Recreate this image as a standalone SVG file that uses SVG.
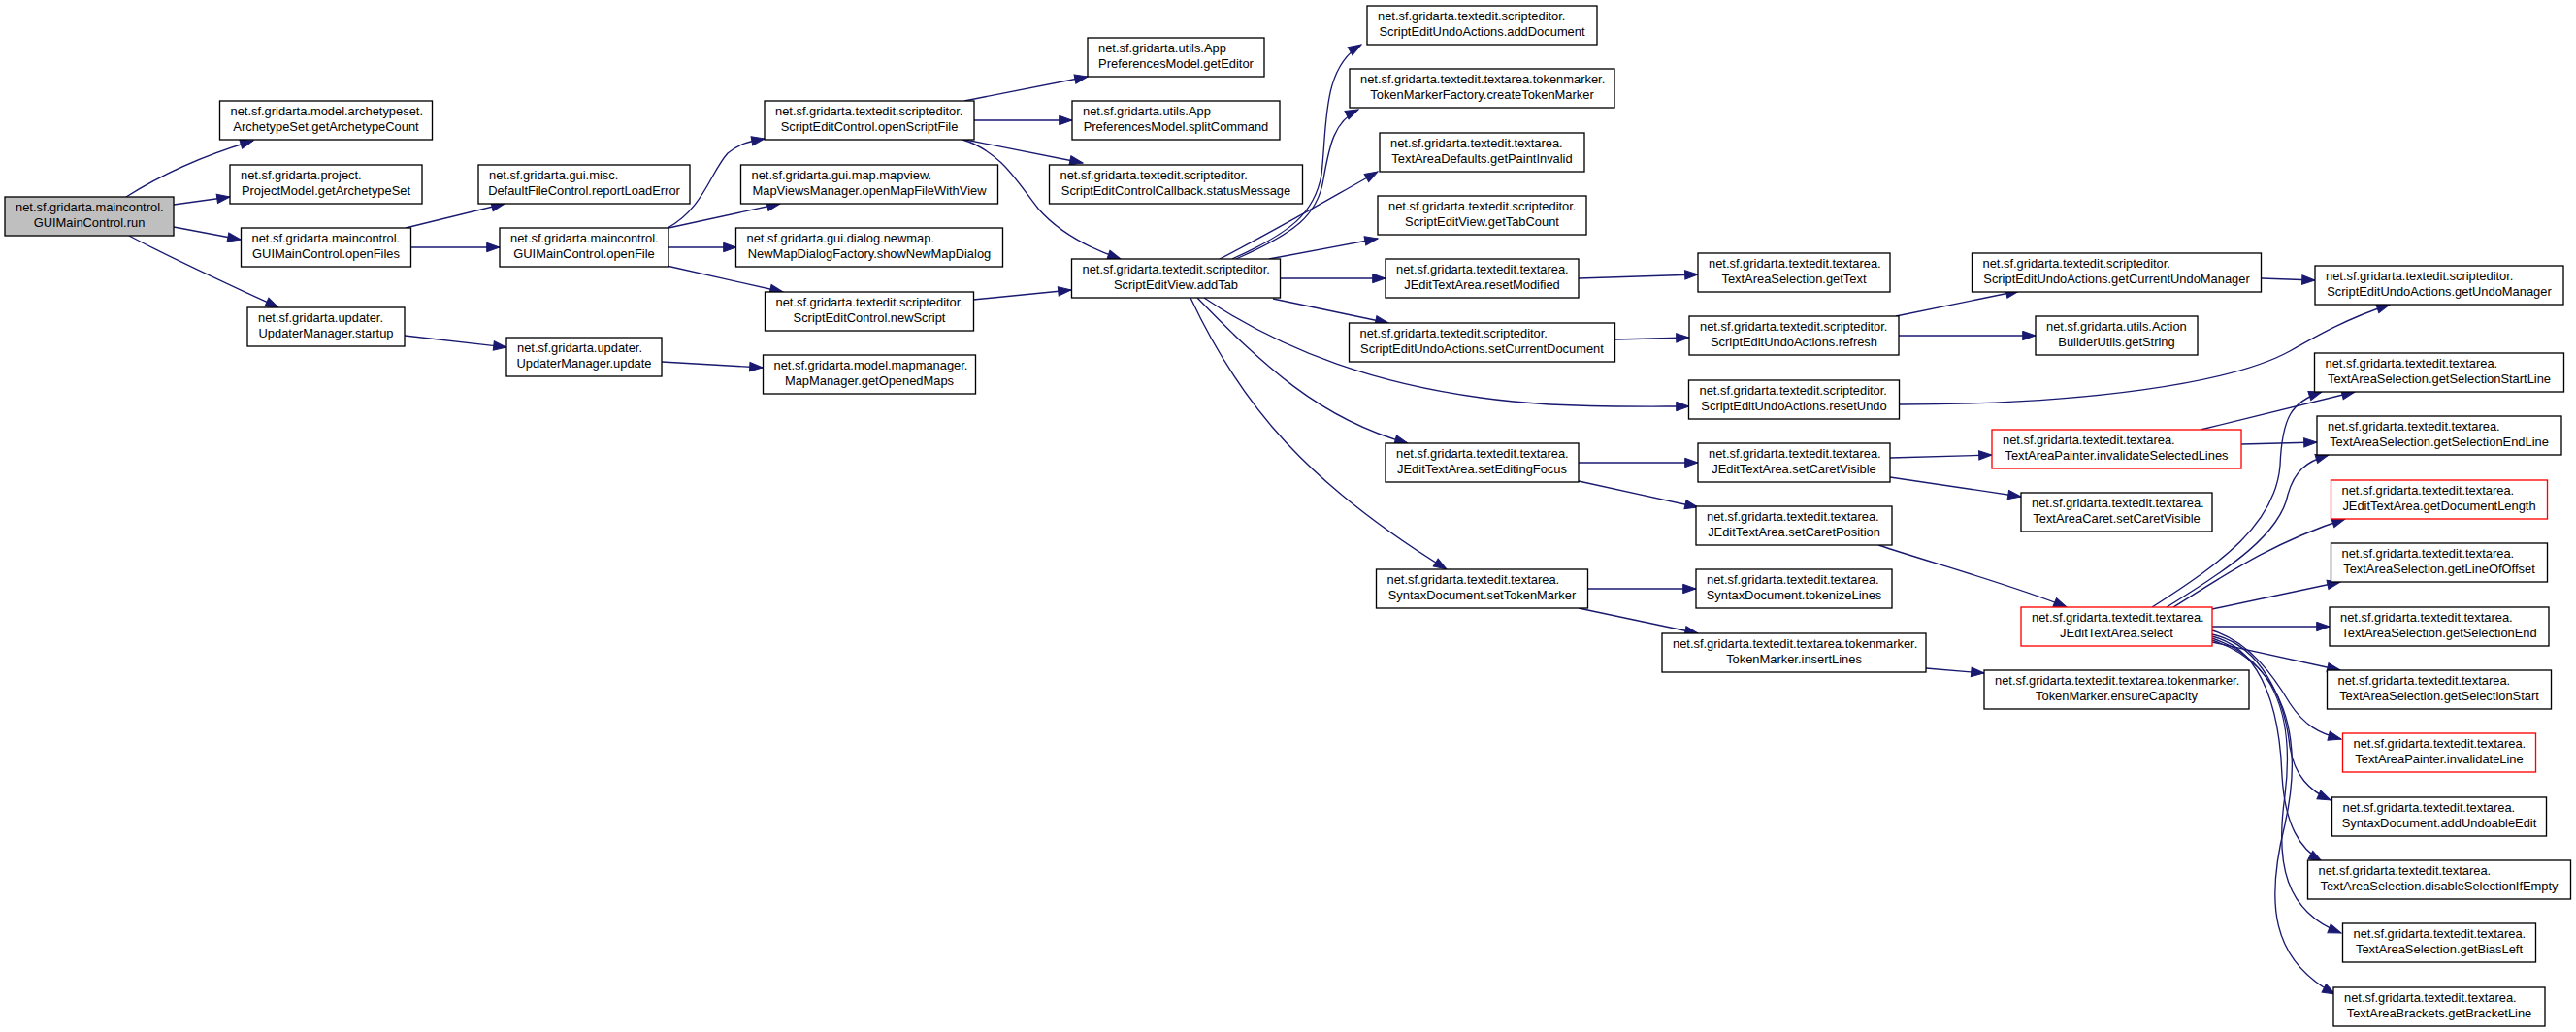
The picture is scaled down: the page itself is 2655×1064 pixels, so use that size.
<svg xmlns="http://www.w3.org/2000/svg" width="2655" height="1064" viewBox="0 0 2655 1064">
<style>
.node rect{fill:#fff;stroke:#000;stroke-width:1.33}
.node.red rect{stroke:#f00}
.node.root rect{fill:#bfbfbf}
text{font-family:"Liberation Sans",Arial,sans-serif;font-size:12.9px;fill:#000}
.c{text-anchor:middle}
#edges path{fill:none;stroke:#191970;stroke-width:1.33;marker-end:url(#arr)}
</style>
<defs>
<marker id="arr" markerUnits="userSpaceOnUse" markerWidth="15" markerHeight="11" viewBox="0 0 15 11" refX="13.8" refY="5.2" orient="auto" overflow="visible">
<path d="M0.5,0.5 L13.8,5.2 L0.5,9.9 z" fill="#191970" stroke="#191970" stroke-width="1"/>
</marker>
</defs>
<rect width="2655" height="1064" fill="#fff"/>
<g id="edges">
<path d="M130,203 C160,184 200,163 261,145"/>
<path d="M179,211 L237,203"/>
<path d="M179,234 L248,247"/>
<path d="M133,243 C180,268 235,293 287,317"/>
<path d="M418,235 L520,210"/>
<path d="M423,255 L515,255"/>
<path d="M688,235 C725,215 732,178 750,158 C762,148 772,146 788,143"/>
<path d="M689,235 L804,210"/>
<path d="M689,255 L759,255"/>
<path d="M687,274 L807,301"/>
<path d="M1003,309 L1104,299"/>
<path d="M417,346 L522,358"/>
<path d="M682,373 L786,379"/>
<path d="M994,104 L1121,79"/>
<path d="M1004,124 L1105,124"/>
<path d="M995,144 L1116,168"/>
<path d="M992,144 C1032,156 1050,190 1070,215 C1090,238 1120,255 1155,267"/>
<path d="M1270,267 C1330,240 1355,220 1362,180 C1368,130 1362,70 1403,46"/>
<path d="M1274,267 C1335,240 1358,222 1364,185 C1370,150 1375,125 1400,113"/>
<path d="M1257,267 C1310,240 1370,205 1420,177"/>
<path d="M1308,267 L1420,246"/>
<path d="M1319,287 L1428,287"/>
<path d="M1312,308 L1431,333"/>
<path d="M1241,307 C1320,360 1420,400 1560,414 C1620,420 1680,419 1741,419"/>
<path d="M1234,307 C1300,375 1360,432 1451,457"/>
<path d="M1227,307 C1280,420 1350,500 1491,587"/>
<path d="M1627,287 L1750,283"/>
<path d="M1665,350 L1741,348"/>
<path d="M1954,326 L2081,300"/>
<path d="M1957,346 L2098,346"/>
<path d="M2331,287 L2386,289"/>
<path d="M1958,417 C2150,417 2300,395 2360,362 C2390,345 2420,328 2463,314"/>
<path d="M1627,477 L1750,477"/>
<path d="M1627,496 L1750,523"/>
<path d="M1948,472 L2053,469"/>
<path d="M1948,492 L2083,512"/>
<path d="M1936,562 C1990,580 2080,605 2130,626"/>
<path d="M1637,607 L1748,607"/>
<path d="M1627,627 L1750,653"/>
<path d="M1985,689 L2045,694"/>
<path d="M2268,443 L2427,404"/>
<path d="M2310,458 L2388,456"/>
<path d="M2218,626 C2290,580 2345,540 2350,480 C2352,430 2362,414 2393,404"/>
<path d="M2233,626 C2300,585 2350,550 2358,510 C2365,485 2377,476 2400,469"/>
<path d="M2240,626 C2290,595 2340,560 2417,535"/>
<path d="M2280,628 L2412,600"/>
<path d="M2280,646 L2401,646"/>
<path d="M2280,662 L2412,691"/>
<path d="M2280,650 C2320,662 2345,700 2360,725 C2375,748 2390,756 2413,762"/>
<path d="M2280,654 C2330,665 2355,720 2360,770 C2365,800 2380,815 2402,825"/>
<path d="M2280,656 C2335,670 2350,740 2352,800 C2355,850 2370,875 2393,888"/>
<path d="M2280,658 C2345,680 2365,740 2355,820 C2345,890 2355,940 2413,962"/>
<path d="M2280,660 C2355,685 2375,760 2355,850 C2335,930 2340,990 2407,1025"/>
</g>
<g id="n_run" class="node root"><rect x="5" y="203" width="174" height="40"/><text x="16" y="218.2">net.sf.gridarta.maincontrol.</text><text class="c" x="92" y="233.7">GUIMainControl.run</text></g>
<g id="n_archCount" class="node"><rect x="226.5" y="104" width="219" height="40"/><text x="237.5" y="119.2">net.sf.gridarta.model.archetypeset.</text><text class="c" x="336" y="134.7">ArchetypeSet.getArchetypeCount</text></g>
<g id="n_getArchSet" class="node"><rect x="237" y="170" width="198" height="40"/><text x="248" y="185.2">net.sf.gridarta.project.</text><text class="c" x="336" y="200.7">ProjectModel.getArchetypeSet</text></g>
<g id="n_openFiles" class="node"><rect x="248.5" y="235" width="175" height="40"/><text x="259.5" y="250.2">net.sf.gridarta.maincontrol.</text><text class="c" x="336" y="265.7">GUIMainControl.openFiles</text></g>
<g id="n_startup" class="node"><rect x="255" y="317" width="162" height="40"/><text x="266" y="332.2">net.sf.gridarta.updater.</text><text class="c" x="336" y="347.7">UpdaterManager.startup</text></g>
<g id="n_reportLoadError" class="node"><rect x="493" y="170" width="218" height="40"/><text x="504" y="185.2">net.sf.gridarta.gui.misc.</text><text class="c" x="602" y="200.7">DefaultFileControl.reportLoadError</text></g>
<g id="n_openFile" class="node"><rect x="515" y="235" width="174" height="40"/><text x="526" y="250.2">net.sf.gridarta.maincontrol.</text><text class="c" x="602" y="265.7">GUIMainControl.openFile</text></g>
<g id="n_update" class="node"><rect x="522" y="348" width="160" height="40"/><text x="533" y="363.2">net.sf.gridarta.updater.</text><text class="c" x="602" y="378.7">UpdaterManager.update</text></g>
<g id="n_openScriptFile" class="node"><rect x="788" y="104" width="216" height="40"/><text x="799" y="119.2">net.sf.gridarta.textedit.scripteditor.</text><text class="c" x="896" y="134.7">ScriptEditControl.openScriptFile</text></g>
<g id="n_openMapFileWithView" class="node"><rect x="763.5" y="170" width="265" height="40"/><text x="774.5" y="185.2">net.sf.gridarta.gui.map.mapview.</text><text class="c" x="896" y="200.7">MapViewsManager.openMapFileWithView</text></g>
<g id="n_showNewMapDialog" class="node"><rect x="758.5" y="235" width="275" height="40"/><text x="769.5" y="250.2">net.sf.gridarta.gui.dialog.newmap.</text><text class="c" x="896" y="265.7">NewMapDialogFactory.showNewMapDialog</text></g>
<g id="n_newScript" class="node"><rect x="788.5" y="301" width="215" height="40"/><text x="799.5" y="316.2">net.sf.gridarta.textedit.scripteditor.</text><text class="c" x="896" y="331.7">ScriptEditControl.newScript</text></g>
<g id="n_getOpenedMaps" class="node"><rect x="786.5" y="366" width="219" height="40"/><text x="797.5" y="381.2">net.sf.gridarta.model.mapmanager.</text><text class="c" x="896" y="396.7">MapManager.getOpenedMaps</text></g>
<g id="n_getEditor" class="node"><rect x="1121" y="39" width="182" height="40"/><text x="1132" y="54.2">net.sf.gridarta.utils.App</text><text class="c" x="1212" y="69.7">PreferencesModel.getEditor</text></g>
<g id="n_splitCommand" class="node"><rect x="1105" y="104" width="214" height="40"/><text x="1116" y="119.2">net.sf.gridarta.utils.App</text><text class="c" x="1212" y="134.7">PreferencesModel.splitCommand</text></g>
<g id="n_statusMessage" class="node"><rect x="1081.5" y="170" width="261" height="40"/><text x="1092.5" y="185.2">net.sf.gridarta.textedit.scripteditor.</text><text class="c" x="1212" y="200.7">ScriptEditControlCallback.statusMessage</text></g>
<g id="n_addTab" class="node"><rect x="1104.5" y="267" width="215" height="40"/><text x="1115.5" y="282.2">net.sf.gridarta.textedit.scripteditor.</text><text class="c" x="1212" y="297.7">ScriptEditView.addTab</text></g>
<g id="n_addDocument" class="node"><rect x="1409" y="6" width="237" height="40"/><text x="1420" y="21.2">net.sf.gridarta.textedit.scripteditor.</text><text class="c" x="1527.5" y="36.7">ScriptEditUndoActions.addDocument</text></g>
<g id="n_createTokenMarker" class="node"><rect x="1391" y="71" width="273" height="40"/><text x="1402" y="86.2">net.sf.gridarta.textedit.textarea.tokenmarker.</text><text class="c" x="1527.5" y="101.7">TokenMarkerFactory.createTokenMarker</text></g>
<g id="n_getPaintInvalid" class="node"><rect x="1422" y="137" width="211" height="40"/><text x="1433" y="152.2">net.sf.gridarta.textedit.textarea.</text><text class="c" x="1527.5" y="167.7">TextAreaDefaults.getPaintInvalid</text></g>
<g id="n_getTabCount" class="node"><rect x="1420" y="202" width="215" height="40"/><text x="1431" y="217.2">net.sf.gridarta.textedit.scripteditor.</text><text class="c" x="1527.5" y="232.7">ScriptEditView.getTabCount</text></g>
<g id="n_resetModified" class="node"><rect x="1428" y="267" width="199" height="40"/><text x="1439" y="282.2">net.sf.gridarta.textedit.textarea.</text><text class="c" x="1527.5" y="297.7">JEditTextArea.resetModified</text></g>
<g id="n_setCurrentDocument" class="node"><rect x="1390.5" y="333" width="274" height="40"/><text x="1401.5" y="348.2">net.sf.gridarta.textedit.scripteditor.</text><text class="c" x="1527.5" y="363.7">ScriptEditUndoActions.setCurrentDocument</text></g>
<g id="n_setEditingFocus" class="node"><rect x="1428" y="457" width="199" height="40"/><text x="1439" y="472.2">net.sf.gridarta.textedit.textarea.</text><text class="c" x="1527.5" y="487.7">JEditTextArea.setEditingFocus</text></g>
<g id="n_setTokenMarker" class="node"><rect x="1418.5" y="587" width="218" height="40"/><text x="1429.5" y="602.2">net.sf.gridarta.textedit.textarea.</text><text class="c" x="1527.5" y="617.7">SyntaxDocument.setTokenMarker</text></g>
<g id="n_getText" class="node"><rect x="1750" y="261" width="198" height="40"/><text x="1761" y="276.2">net.sf.gridarta.textedit.textarea.</text><text class="c" x="1849" y="291.7">TextAreaSelection.getText</text></g>
<g id="n_refresh" class="node"><rect x="1741" y="326" width="216" height="40"/><text x="1752" y="341.2">net.sf.gridarta.textedit.scripteditor.</text><text class="c" x="1849" y="356.7">ScriptEditUndoActions.refresh</text></g>
<g id="n_resetUndo" class="node"><rect x="1740.5" y="392" width="217" height="40"/><text x="1751.5" y="407.2">net.sf.gridarta.textedit.scripteditor.</text><text class="c" x="1849" y="422.7">ScriptEditUndoActions.resetUndo</text></g>
<g id="n_setCaretVisibleJ" class="node"><rect x="1750" y="457" width="198" height="40"/><text x="1761" y="472.2">net.sf.gridarta.textedit.textarea.</text><text class="c" x="1849" y="487.7">JEditTextArea.setCaretVisible</text></g>
<g id="n_setCaretPosition" class="node"><rect x="1748" y="522" width="202" height="40"/><text x="1759" y="537.2">net.sf.gridarta.textedit.textarea.</text><text class="c" x="1849" y="552.7">JEditTextArea.setCaretPosition</text></g>
<g id="n_tokenizeLines" class="node"><rect x="1748" y="587" width="202" height="40"/><text x="1759" y="602.2">net.sf.gridarta.textedit.textarea.</text><text class="c" x="1849" y="617.7">SyntaxDocument.tokenizeLines</text></g>
<g id="n_insertLines" class="node"><rect x="1713" y="653" width="272" height="40"/><text x="1724" y="668.2">net.sf.gridarta.textedit.textarea.tokenmarker.</text><text class="c" x="1849" y="683.7">TokenMarker.insertLines</text></g>
<g id="n_getCurrentUndoManager" class="node"><rect x="2032.5" y="261" width="298" height="40"/><text x="2043.5" y="276.2">net.sf.gridarta.textedit.scripteditor.</text><text class="c" x="2181.5" y="291.7">ScriptEditUndoActions.getCurrentUndoManager</text></g>
<g id="n_getString" class="node"><rect x="2098" y="326" width="167" height="40"/><text x="2109" y="341.2">net.sf.gridarta.utils.Action</text><text class="c" x="2181.5" y="356.7">BuilderUtils.getString</text></g>
<g id="n_invalidateSelectedLines" class="node red"><rect x="2053" y="443" width="257" height="40"/><text x="2064" y="458.2">net.sf.gridarta.textedit.textarea.</text><text class="c" x="2181.5" y="473.7">TextAreaPainter.invalidateSelectedLines</text></g>
<g id="n_caretSetCaretVisible" class="node"><rect x="2083" y="508" width="197" height="40"/><text x="2094" y="523.2">net.sf.gridarta.textedit.textarea.</text><text class="c" x="2181.5" y="538.7">TextAreaCaret.setCaretVisible</text></g>
<g id="n_select" class="node red"><rect x="2083" y="626" width="197" height="40"/><text x="2094" y="641.2">net.sf.gridarta.textedit.textarea.</text><text class="c" x="2181.5" y="656.7">JEditTextArea.select</text></g>
<g id="n_ensureCapacity" class="node"><rect x="2045" y="691" width="273" height="40"/><text x="2056" y="706.2">net.sf.gridarta.textedit.textarea.tokenmarker.</text><text class="c" x="2181.5" y="721.7">TokenMarker.ensureCapacity</text></g>
<g id="n_getUndoManager" class="node"><rect x="2386" y="274" width="256" height="40"/><text x="2397" y="289.2">net.sf.gridarta.textedit.scripteditor.</text><text class="c" x="2514" y="304.7">ScriptEditUndoActions.getUndoManager</text></g>
<g id="n_getSelectionStartLine" class="node"><rect x="2385.5" y="364" width="257" height="40"/><text x="2396.5" y="379.2">net.sf.gridarta.textedit.textarea.</text><text class="c" x="2514" y="394.7">TextAreaSelection.getSelectionStartLine</text></g>
<g id="n_getSelectionEndLine" class="node"><rect x="2388" y="429" width="252" height="40"/><text x="2399" y="444.2">net.sf.gridarta.textedit.textarea.</text><text class="c" x="2514" y="459.7">TextAreaSelection.getSelectionEndLine</text></g>
<g id="n_getDocumentLength" class="node red"><rect x="2402.5" y="495" width="223" height="40"/><text x="2413.5" y="510.2">net.sf.gridarta.textedit.textarea.</text><text class="c" x="2514" y="525.7">JEditTextArea.getDocumentLength</text></g>
<g id="n_getLineOfOffset" class="node"><rect x="2402.5" y="560" width="223" height="40"/><text x="2413.5" y="575.2">net.sf.gridarta.textedit.textarea.</text><text class="c" x="2514" y="590.7">TextAreaSelection.getLineOfOffset</text></g>
<g id="n_getSelectionEnd" class="node"><rect x="2401" y="626" width="226" height="40"/><text x="2412" y="641.2">net.sf.gridarta.textedit.textarea.</text><text class="c" x="2514" y="656.7">TextAreaSelection.getSelectionEnd</text></g>
<g id="n_getSelectionStart" class="node"><rect x="2398.5" y="691" width="231" height="40"/><text x="2409.5" y="706.2">net.sf.gridarta.textedit.textarea.</text><text class="c" x="2514" y="721.7">TextAreaSelection.getSelectionStart</text></g>
<g id="n_invalidateLine" class="node red"><rect x="2414.5" y="756" width="199" height="40"/><text x="2425.5" y="771.2">net.sf.gridarta.textedit.textarea.</text><text class="c" x="2514" y="786.7">TextAreaPainter.invalidateLine</text></g>
<g id="n_addUndoableEdit" class="node"><rect x="2403.5" y="822" width="221" height="40"/><text x="2414.5" y="837.2">net.sf.gridarta.textedit.textarea.</text><text class="c" x="2514" y="852.7">SyntaxDocument.addUndoableEdit</text></g>
<g id="n_disableSelectionIfEmpty" class="node"><rect x="2378.5" y="887" width="271" height="40"/><text x="2389.5" y="902.2">net.sf.gridarta.textedit.textarea.</text><text class="c" x="2514" y="917.7">TextAreaSelection.disableSelectionIfEmpty</text></g>
<g id="n_getBiasLeft" class="node"><rect x="2414.5" y="952" width="199" height="40"/><text x="2425.5" y="967.2">net.sf.gridarta.textedit.textarea.</text><text class="c" x="2514" y="982.7">TextAreaSelection.getBiasLeft</text></g>
<g id="n_getBracketLine" class="node"><rect x="2405" y="1018" width="218" height="40"/><text x="2416" y="1033.2">net.sf.gridarta.textedit.textarea.</text><text class="c" x="2514" y="1048.7">TextAreaBrackets.getBracketLine</text></g>
</svg>
